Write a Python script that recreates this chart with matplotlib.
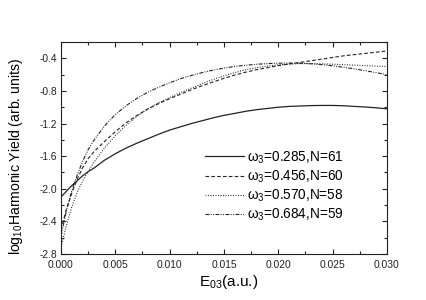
import numpy as np
import matplotlib
matplotlib.use("Agg")
import matplotlib.pyplot as plt
from matplotlib.ticker import MultipleLocator

plt.rcParams['font.family'] = ['Liberation Sans', 'DejaVu Sans']
plt.rcParams['mathtext.fontset'] = 'custom'
plt.rcParams['mathtext.rm'] = 'Liberation Sans'
plt.rcParams['mathtext.it'] = 'Liberation Sans:italic'
plt.rcParams['lines.scale_dashes'] = False

# field amplitude E03 (a.u.)
e03 = [0.0, 0.0005, 0.001, 0.0015, 0.002, 0.0025, 0.003, 0.004, 0.005, 0.006,
       0.007, 0.008, 0.009, 0.010, 0.011, 0.012, 0.013, 0.014, 0.015, 0.016,
       0.017, 0.018, 0.019, 0.020, 0.021, 0.022, 0.023, 0.024, 0.025, 0.026,
       0.027, 0.028, 0.029, 0.030]

# log10 harmonic yield for each third-field frequency
y_285 = [-2.10, -2.03, -1.96, -1.90, -1.84, -1.79, -1.75, -1.65, -1.57, -1.50,
         -1.44, -1.385, -1.33, -1.28, -1.24, -1.20, -1.165, -1.13, -1.10, -1.075,
         -1.05, -1.03, -1.015, -1.00, -0.99, -0.985, -0.98, -0.978, -0.978, -0.982,
         -0.99, -0.997, -1.007, -1.02]
y_456 = [-2.50, -2.25, -2.05, -1.88, -1.74, -1.63, -1.55, -1.42, -1.30, -1.19,
         -1.10, -1.02, -0.955, -0.895, -0.84, -0.785, -0.735, -0.69, -0.645, -0.605,
         -0.57, -0.54, -0.515, -0.49, -0.47, -0.45, -0.43, -0.41, -0.39, -0.37,
         -0.355, -0.34, -0.325, -0.31]
y_570 = [-2.71, -2.45, -2.22, -2.04, -1.90, -1.79, -1.68, -1.50, -1.35, -1.22,
         -1.11, -1.02, -0.945, -0.88, -0.82, -0.765, -0.71, -0.66, -0.615, -0.575,
         -0.54, -0.515, -0.495, -0.48, -0.47, -0.465, -0.465, -0.468, -0.472, -0.478,
         -0.484, -0.49, -0.496, -0.50]
y_684 = [-2.58, -2.27, -2.02, -1.83, -1.66, -1.52, -1.41, -1.23, -1.09, -0.98,
         -0.89, -0.815, -0.755, -0.70, -0.65, -0.61, -0.575, -0.545, -0.52, -0.50,
         -0.485, -0.473, -0.465, -0.46, -0.458, -0.46, -0.467, -0.478, -0.492, -0.51,
         -0.53, -0.552, -0.576, -0.60]

labels = ['ω$_{\\mathrm{3}}$=0.285,N=61', 'ω$_{\\mathrm{3}}$=0.456,N=60',
          'ω$_{\\mathrm{3}}$=0.570,N=58', 'ω$_{\\mathrm{3}}$=0.684,N=59']

fig = plt.figure(figsize=(4.27, 3.0), dpi=100)
ax = fig.add_axes([61/427, 46/300, 326/427, 212/300])

ax.plot(e03, y_285, color='#222222', lw=0.9, label=labels[0])
ax.plot(e03, y_456, color='#222222', lw=0.8, dashes=(2.6, 1.6), label=labels[1])
ax.plot(e03, y_570, color='#222222', lw=0.8, dashes=(0.7, 1.1), label=labels[2])
ax.plot(e03, y_684, color='#222222', lw=0.8,
        dashes=(2.8, 1.0, 0.7, 1.0, 0.7, 1.0), label=labels[3])

ax.set_xlim(0, 0.03)
ax.set_ylim(-2.8, -0.2)
ax.xaxis.set_major_locator(MultipleLocator(0.005))
ax.xaxis.set_minor_locator(MultipleLocator(0.0025))
ax.yaxis.set_minor_locator(MultipleLocator(0.2))
ax.set_yticks([-2.8, -2.4, -2.0, -1.6, -1.2, -0.8, -0.4])
ax.xaxis.set_major_formatter(plt.FuncFormatter(lambda v, p: f"{v:.3f}"))
ax.yaxis.set_major_formatter(plt.FuncFormatter(lambda v, p: f"{v:.1f}"))

ax.tick_params(which='both', direction='in', top=True, right=True,
               width=0.8, labelsize=7.4, colors='#222222')
ax.tick_params(which='major', length=3.5)
ax.tick_params(which='minor', length=2)
ax.tick_params(axis='x', pad=4.5)
ax.tick_params(axis='y', pad=3)
for s in ax.spines.values():
    s.set_linewidth(0.8)
    s.set_color('#222222')

ax.set_xlabel('E$_{\\mathrm{03}}$(a.u.)', fontsize=11)
ax.xaxis.set_label_coords(0.515, -0.09)
ax.set_ylabel('log$_{\\mathrm{10}}$Harmonic Yield (arb. units)', fontsize=10.1)
ax.yaxis.set_label_coords(-0.11, 0.46)

ax.legend(loc='upper left', bbox_to_anchor=(0.425, 0.52), frameon=False,
          fontsize=9.8, handlelength=2.9, handletextpad=0.15, labelspacing=0.2,
          borderaxespad=0)

fig.savefig('out.png', dpi=100)
